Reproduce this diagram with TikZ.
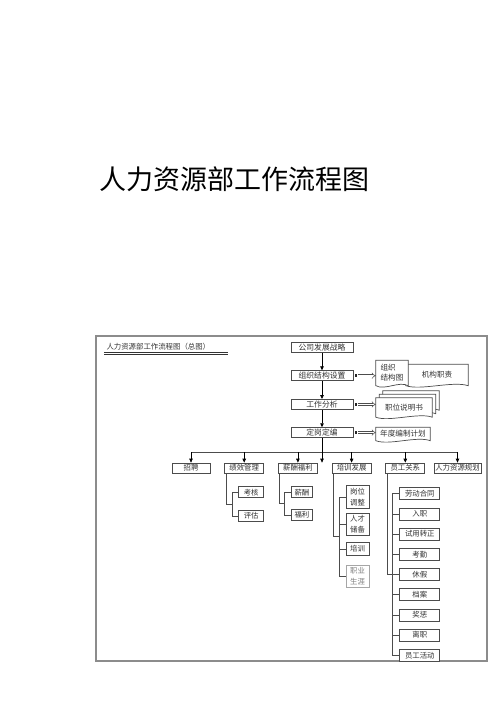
\documentclass[tikz,border=0pt]{standalone}
\usepackage{fontspec}
\setmainfont{Noto Sans CJK SC}
\usepackage{tikz}
\usetikzlibrary{arrows.meta,positioning,calc,backgrounds}

% document shape round a node: node, wave, dx, dy
\newcommand{\docshape}[4]{%
  \draw[docline] ([shift={(#3,#4)}]#1.north west) -- ([shift={(#3,#4)}]#1.north east)
    -- ([shift={(#3,#4)}]#1.south east) .. controls +(-#2,-5) and +(#2,5) .. ([shift={(#3,#4)}]#1.south west) -- cycle;}

\begin{document}
\begin{tikzpicture}[
    x=1pt, y=-1pt,
    font=\fontsize{7.8}{9}\selectfont,
    box/.style={rectangle, draw=black!70, line width=0.7pt, fill=white, inner sep=0pt, minimum height=10pt, text=black!80},
    topbox/.style={box, font=\fontsize{7.4}{9}\selectfont},
    subbox/.style={box, font=\fontsize{7.4}{10.5}\selectfont, minimum height=11pt, align=center},
    doctext/.style={inner sep=0pt, text=black!80, font=\fontsize{7.6}{10}\selectfont},
    docline/.style={draw=black!70, line width=0.7pt, fill=white},
    arrow/.style={-{Triangle[length=4pt,width=3.5pt]}, line width=0.7pt},
    link/.style={draw=black!70, line width=0.7pt},
    dblarrow/.style={draw=black!70, double=white, double distance=1.6pt, line width=0.5pt, -{Implies}}
]
    \useasboundingbox (0,0) rectangle (500,725);

    % Page title
    \node[font=\fontsize{27}{30}\selectfont] (title) at (234,179) {人力资源部工作流程图};

    % Frame and its heading
    \draw[black!45, line width=1.5pt] (96,336) rectangle (487,661);
    \node[anchor=west, text=black!80, font=\fontsize{7.4}{9}\selectfont] (heading) at (103,347) {人力资源部工作流程图（总图）};
    \draw[black!80, line width=0.4pt] (104,352) -- (228,352);
    \draw[black!80, line width=1.2pt] (104,354.2) -- (228,354.2);

    % Main chain
    \node[box, minimum width=62pt] (strategy) at (322,347.5) {公司发展战略};
    \node[box, minimum width=62pt, below=17.5pt of strategy] (orgset) {组织结构设置};
    \node[box, minimum width=62pt, below=18pt of orgset] (jobana) {工作分析};
    \node[box, minimum width=62pt, below=17.5pt of jobana] (staffing) {定岗定编};

    \draw[arrow] (strategy) -- (orgset);
    \draw[arrow] (orgset) -- (jobana);
    \draw[arrow] (jobana) -- (staffing);

    % Documents
    \node[doctext, minimum width=62pt, minimum height=21pt] (duty) at (437,375) {机构职责};
    \node[doctext, minimum width=32pt, minimum height=25pt, align=left] (orgchart) at (392,373) {组织\\结构图};
    \node[doctext, minimum width=56pt, minimum height=19pt] (jobdesc) at (404,407.5) {职位说明书};
    \node[doctext, minimum width=54pt, minimum height=13pt] (plan) at (403,434) {年度编制计划};

    \begin{scope}[on background layer]
        \docshape{duty}{15}{0}{0}
        \docshape{orgchart}{9}{0}{0}
        \docshape{jobdesc}{13}{7}{-7}
        \docshape{jobdesc}{13}{3.5}{-3.5}
        \docshape{jobdesc}{13}{0}{0}
        \docshape{plan}{13}{0}{0}
    \end{scope}

    % Hollow arrows to the documents
    \foreach \a/\b in {orgset/orgchart, jobana/jobdesc, staffing/plan} {
        \node[fill=black!85, minimum size=2.6pt, inner sep=0pt, right=1.2pt of \a] (m\a) {};
        \draw[dblarrow] (m\a.east) -- (m\a.east -| \b.west);
    }

    % Second level
    \node[topbox, minimum width=38pt] (recruit) at (191,468) {招聘};
    \node[topbox, minimum width=39pt, right=14pt of recruit] (perf) {绩效管理};
    \node[topbox, minimum width=39pt, right=14pt of perf] (pay) {薪酬福利};
    \node[topbox, minimum width=39pt, right=14pt of pay] (train) {培训发展};
    \node[topbox, minimum width=39pt, right=14pt of train] (relation) {员工关系};
    \node[topbox, minimum width=47pt, right=8.5pt of relation] (planning) {人力资源规划};

    \coordinate (bus) at (322,452);
    \draw[link] (bus -| recruit) -- (bus -| planning);
    \foreach \n in {recruit, perf, pay, train, relation, planning}
        \draw[arrow] (bus -| \n) -- (\n.north);
    \draw[arrow] (staffing) -- (staffing.south |- recruit.north);

    % Performance
    \node[subbox, minimum width=25pt, below right=13pt and 14pt of perf.south west] (assess) {考核};
    \node[subbox, minimum width=25pt, below=12pt of assess] (evaluate) {评估};
    \draw[link] (assess.west) -- ++(-6.5,0) |- (evaluate.west);
    \draw[link] ([xshift=1.5pt]perf.south west) |- ($(assess.west)!0.5!(evaluate.west)+(-6.5,0)$);

    % Pay
    \node[subbox, minimum width=21pt, below right=13pt and 13pt of pay.south west] (salary) {薪酬};
    \node[subbox, minimum width=21pt, below=11pt of salary] (welfare) {福利};
    \draw[link] (salary.west) -- ++(-6.5,0) |- (welfare.west);
    \draw[link] ([xshift=1.5pt]pay.south west) |- ($(salary.west)!0.5!(welfare.west)+(-6.5,0)$);

    % Training
    \node[subbox, minimum width=23pt, minimum height=23pt, below right=12pt and 14pt of train.south west] (adjust) {岗位\\调整};
    \node[subbox, minimum width=23pt, minimum height=22pt, below=4pt of adjust] (reserve) {人才\\储备};
    \node[subbox, minimum width=23pt, minimum height=13pt, below=6.5pt of reserve] (course) {培训};
    \node[subbox, minimum width=23pt, minimum height=22pt, below=9pt of course, draw=black!35, text=black!50] (career) {职业\\生涯};
    \draw[link] (adjust.west) -- ++(-6.5,0) |- (career.west);
    \foreach \n in {reserve, course}
        \draw[link] (\n.west) -- ++(-6.5,0);
    \draw[link] ([xshift=1.5pt]train.south west) |- ($(adjust.west)!0.5!(career.west)+(-6.5,0)$);

    % Employee relations
    \node[subbox, minimum width=40pt, minimum height=12pt, below right=14pt and 14pt of relation.south west] (r1) {劳动合同};
    \node[subbox, minimum width=40pt, minimum height=12pt, below=7.5pt of r1] (r2) {入职};
    \node[subbox, minimum width=40pt, minimum height=12pt, below=7.5pt of r2] (r3) {试用转正};
    \node[subbox, minimum width=40pt, minimum height=12pt, below=7.5pt of r3] (r4) {考勤};
    \node[subbox, minimum width=40pt, minimum height=12pt, below=7.5pt of r4] (r5) {休假};
    \node[subbox, minimum width=40pt, minimum height=12pt, below=7.5pt of r5] (r6) {档案};
    \node[subbox, minimum width=40pt, minimum height=12pt, below=7.5pt of r6] (r7) {奖惩};
    \node[subbox, minimum width=40pt, minimum height=12pt, below=7.5pt of r7] (r8) {离职};
    \node[subbox, minimum width=40pt, minimum height=12pt, below=7.5pt of r8] (r9) {员工活动};
    \draw[link] (r1.west) -- ++(-7,0) |- (r9.west);
    \foreach \n in {r2, r3, r4, r5, r6, r7, r8}
        \draw[link] (\n.west) -- ++(-7,0);
    \draw[link] ([xshift=1.5pt]relation.south west) |- ($(r1.west)!0.5!(r9.west)+(-7,0)$);

\end{tikzpicture}
\end{document}
